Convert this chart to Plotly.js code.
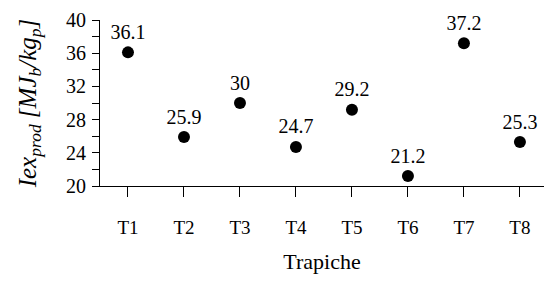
<!DOCTYPE html>
<html><head><meta charset="utf-8">
<script src="https://cdn.plot.ly/plotly-3.0.1.min.js"></script>
<style>html,body{margin:0;padding:0;background:#fff}</style>
</head><body><div id="chart" style="width:544px;height:284px"></div>
<script>
const categories = ["T1","T2","T3","T4","T5","T6","T7","T8"];
const values = [36.1, 25.9, 30, 24.7, 29.2, 21.2, 37.2, 25.3];
const yTicks = [20, 24, 28, 32, 36, 40];

const font = "Liberation Serif";
const trace = {
  x: categories, y: values, type: "scatter", mode: "markers+text",
  text: values.map(v => String(v)), textposition: "top center",
  textfont: {family: font, size: 20, color: "#000"},
  marker: {color: "#000", size: 12, symbol: "circle"},
  cliponaxis: false, hoverinfo: "none"
};
const layout = {
  width: 544, height: 284,
  margin: {l: 100, r: 0, t: 20, b: 98},
  paper_bgcolor: "#fff", plot_bgcolor: "#fff",
  showlegend: false,
  font: {family: font, color: "#000"},
  xaxis: {
    type: "category", range: [-0.5, 7.43],
    showline: true, linecolor: "#000", linewidth: 1,
    ticks: "outside", ticklen: 10, tickcolor: "#000", tickwidth: 1,
    tickfont: {family: font, size: 19, color: "#000"},
    ticklabelstandoff: 14,
    showgrid: false, zeroline: false,
    title: {text: "Trapiche", font: {family: font, size: 22, color: "#000"}, standoff: 16}
  },
  yaxis: {
    range: [20, 40], tickvals: yTicks,
    showline: true, linecolor: "#000", linewidth: 1,
    ticks: "outside", ticklen: 7, tickcolor: "#000", tickwidth: 1,
    minor: {dtick: 2, ticks: "outside", ticklen: 7, tickcolor: "#000"},
    tickfont: {family: font, size: 20, color: "#000"},
    ticklabelstandoff: 2,
    showgrid: false, zeroline: false,
    title: {text: "<i>Iex<sub>prod</sub> [MJ<sub>b</sub>/kg<sub>p</sub>]</i>", font: {family: font, size: 25, color: "#000"}, standoff: 22}
  }
};
Plotly.newPlot("chart", [trace], layout, {displayModeBar: false, staticPlot: true});
</script></body></html>
